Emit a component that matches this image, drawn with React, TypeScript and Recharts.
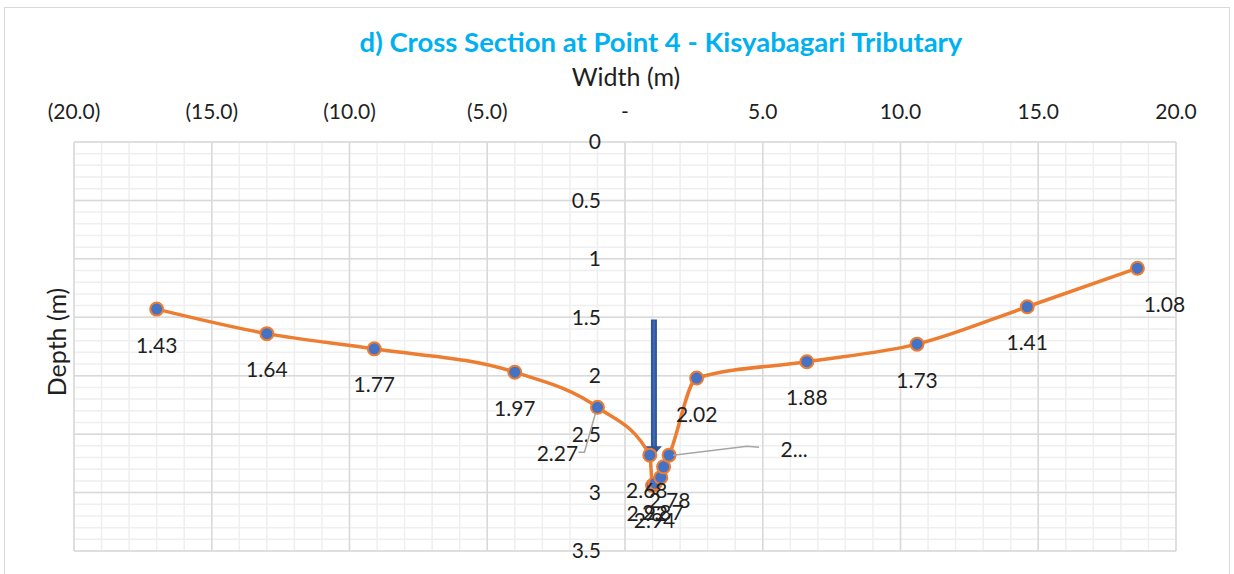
import React from 'react';
import {
  LineChart,
  Line,
  XAxis,
  YAxis,
  CartesianGrid,
  ReferenceDot,
  ReferenceLine,
  LabelList,
} from 'recharts';

// ---- data ----
const widthM = [-17.0, -13.0, -9.1, -4.0, -1.0, 0.9, 1.0, 1.1, 1.3, 1.4, 1.6, 2.6, 6.6, 10.6, 14.6, 18.6];
const depthM = [1.43, 1.64, 1.77, 1.97, 2.27, 2.68, 2.94, 2.92, 2.87, 2.78, 2.68, 2.02, 1.88, 1.73, 1.41, 1.08];
const xTicks = [-20, -15, -10, -5, 0, 5, 10, 15, 20];
const yTicks = [0, 0.5, 1, 1.5, 2, 2.5, 3, 3.5];
const xMinorTicks = Array.from({ length: 41 }, (_, i) => i - 20);
const yMinorTicks = Array.from({ length: 36 }, (_, i) => i / 10);
// water-level arrow annotation (width, depth top, depth bottom)
const arrowX = 1.05;
const arrowTop = 1.52;
const arrowBottom = 2.68;
// label texts that Excel truncated
const labelTextOverride: Record<number, string> = { 10: '2...' };

const chartData = widthM.map((w, i) => ({ w, d: depthM[i] }));

const FONT = "Lato, 'Open Sans', 'DejaVu Sans', sans-serif";
const TEXT = '#1f1f1f';
const FS = 21;

const fmtX = (v: number) => {
  if (v === 0) return '-';
  if (v < 0) return `(${Math.abs(v).toFixed(1)})`;
  return v.toFixed(1);
};

const scaleFn = (axis: any) => {
  const s = axis && axis.scale;
  return (v: number) => {
    if (typeof s === 'function') return s(v);
    if (s && typeof s.map === 'function') return s.map(v);
    return 0;
  };
};

// label placement (layout, px relative to the point)
const labelPlace: Record<number, { dx: number; dy: number }> = {
  4: { dx: -40, dy: 45 },
  5: { dx: -3, dy: 34 },
  6: { dx: 2, dy: 34 },
  7: { dx: -8, dy: 29 },
  8: { dx: 2, dy: 34 },
  9: { dx: 6, dy: 33 },
  10: { dx: 125, dy: -7 },
  15: { dx: 27, dy: 35 },
};

const renderLabel = (props: any) => {
  const { x, y, value, index } = props;
  if (x == null || y == null) return null;
  const p = labelPlace[index] || { dx: 0, dy: 35 };
  const text = labelTextOverride[index] ?? Number(value).toFixed(2);
  let leader: string | null = null;
  if (index === 4) {
    leader = `M ${x - 19} ${y + 45} H ${x - 13} L ${x - 2} ${y + 6}`;
  } else if (index === 10) {
    leader = `M ${x + 90} ${y - 8} L ${x + 78} ${y - 9} L ${x + 4} ${y}`;
  }
  return (
    <g key={`lbl-${index}`}>
      {leader && <path d={leader} stroke="#a6a6a6" strokeWidth={1.5} fill="none" />}
      <text
        x={x + p.dx}
        y={y + p.dy}
        textAnchor="middle"
        dominantBaseline="central"
        fontSize={FS}
        fontFamily={FONT}
        fill={TEXT}
      >
        {text}
      </text>
    </g>
  );
};

const ArrowShape = (props: any) => {
  const { x1, y1, x2, y2 } = props;
  if ([x1, y1, x2, y2].some((v) => typeof v !== 'number' || isNaN(v))) return null;
  return (
    <g>
      <line x1={x1} y1={y1} x2={x2} y2={y2 - 6} stroke="#2F5597" strokeWidth={6} />
      <line x1={x1} y1={y1 + 1} x2={x2} y2={y2 - 6} stroke="#3D68B4" strokeWidth={2.5} />
      <path d={`M ${x2 - 8} ${y2 - 9} L ${x2 + 8} ${y2 - 9} L ${x2} ${y2} Z`} fill="#2F5597" />
    </g>
  );
};

export default function App() {
  return (
    <div
      style={{
        position: 'absolute',
        left: 0,
        top: 0,
        width: 1234,
        height: 574,
        overflow: 'hidden',
        background: '#ffffff',
        fontFamily: FONT,
      }}
    >
      <div
        style={{
          position: 'absolute',
          left: 4,
          top: 7,
          width: 1226,
          height: 600,
          border: '1.5px solid #d9d9d9',
          boxSizing: 'border-box',
        }}
      />
      <div
        style={{
          position: 'absolute',
          left: 661,
          top: 42,
          transform: 'translate(-50%, -50%)',
          whiteSpace: 'nowrap',
          fontSize: 27.5,
          lineHeight: 1,
          fontWeight: 700,
          color: '#00B0F0',
        }}
      >
        d) Cross Section at Point 4 - Kisyabagari Tributary
      </div>
      <div
        style={{
          position: 'absolute',
          left: 626,
          top: 76,
          transform: 'translate(-50%, -50%)',
          whiteSpace: 'nowrap',
          fontSize: 25,
          lineHeight: 1,
          color: TEXT,
        }}
      >
        Width (m)
      </div>
      <div
        style={{
          position: 'absolute',
          left: 56,
          top: 342,
          transform: 'translate(-50%, -50%) rotate(-90deg)',
          whiteSpace: 'nowrap',
          fontSize: 25,
          lineHeight: 1,
          color: TEXT,
        }}
      >
        Depth (m)
      </div>
      <div style={{ position: 'absolute', left: 0, top: 0 }}>
        <LineChart
          width={1234}
          height={574}
          data={chartData}
          margin={{ top: 102, right: 58, bottom: 23, left: 74 }}
        >
          <CartesianGrid
            stroke="#efefef"
            strokeWidth={1.5}
            verticalCoordinatesGenerator={(p: any) => xMinorTicks.map(scaleFn(p.xAxis))}
            horizontalCoordinatesGenerator={(p: any) => yMinorTicks.map(scaleFn(p.yAxis))}
          />
          <CartesianGrid
            stroke="#d9d9d9"
            strokeWidth={1.5}
            verticalCoordinatesGenerator={(p: any) => xTicks.map(scaleFn(p.xAxis))}
            horizontalCoordinatesGenerator={(p: any) => yTicks.map(scaleFn(p.yAxis))}
          />
          <XAxis
            type="number"
            dataKey="w"
            domain={[-20, 20]}
            ticks={xTicks}
            interval={0}
            orientation="top"
            axisLine={false}
            tickLine={false}
            tickSize={0}
            tickMargin={23}
            height={40}
            tickFormatter={fmtX}
            tick={{ fontSize: FS, fill: TEXT, fontFamily: FONT }}
            allowDataOverflow
          />
          <YAxis type="number" domain={[0, 3.5]} ticks={yTicks} reversed hide allowDataOverflow />
          {yTicks.map((t) => (
            <ReferenceDot
              key={`yt-${t}`}
              x={0}
              y={t}
              r={0.01}
              fill="none"
              stroke="none"
              label={{
                value: String(t),
                position: 'left',
                offset: 24,
                fontSize: FS,
                fill: TEXT,
                fontFamily: FONT,
              }}
            />
          ))}
          <Line
            type="monotone"
            dataKey="d"
            stroke="#ED7D31"
            strokeWidth={3.5}
            dot={{ r: 6.5, fill: '#4472C4', stroke: '#ED7D31', strokeWidth: 2 }}
            activeDot={false}
            isAnimationActive={false}
          >
            <LabelList dataKey="d" content={renderLabel} />
          </Line>
          <ReferenceLine
            segment={[
              { x: arrowX, y: arrowTop },
              { x: arrowX, y: arrowBottom },
            ]}
            stroke="#2F5597"
            strokeWidth={6}
            shape={ArrowShape}
            ifOverflow="visible"
          />
        </LineChart>
      </div>
    </div>
  );
}
